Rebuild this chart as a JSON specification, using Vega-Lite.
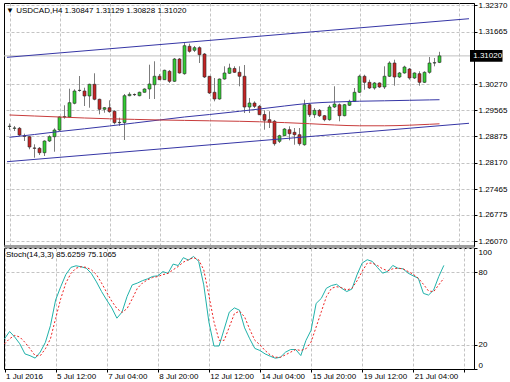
{
  "$schema": "https://vega.github.io/schema/vega-lite/v6.json",
  "background": "white",
  "padding": {"left": 2, "top": 0, "right": 0, "bottom": 0},
  "spacing": 2,
  "bounds": "flush",
  "config": {
    "font": "Liberation Sans",
    "view": {"stroke": "#000000", "strokeWidth": 1},
    "axis": {"labelFont": "Liberation Sans", "labelFontSize": 8, "labelColor": "#000000", "gridColor": "#c4c4c4", "gridDash": [3, 2], "domainColor": "#000000", "tickColor": "#000000", "labelOverlap": false, "title": null}
  },
  "datasets": {
    "bars": [
      {"i":0,"o":1.29136,"h":1.29216,"l":1.29043,"c":1.29144,"k":25,"d":20.8},
      {"i":1,"o":1.29088,"h":1.29150,"l":1.29016,"c":1.29096,"k":31,"d":25},
      {"i":2,"o":1.29088,"h":1.29123,"l":1.28883,"c":1.28909,"k":26.4,"d":27.8},
      {"i":3,"o":1.28883,"h":1.28944,"l":1.28749,"c":1.28875,"k":20.8,"d":26.4},
      {"i":4,"o":1.28864,"h":1.28883,"l":1.28528,"c":1.28589,"k":12.5,"d":22},
      {"i":5,"o":1.28563,"h":1.28661,"l":1.28304,"c":1.28555,"k":11,"d":16.7},
      {"i":6,"o":1.28555,"h":1.28589,"l":1.28376,"c":1.28437,"k":9,"d":11},
      {"i":7,"o":1.28437,"h":1.28768,"l":1.28349,"c":1.28749,"k":14,"d":11},
      {"i":8,"o":1.28749,"h":1.28901,"l":1.28723,"c":1.28864,"k":22,"d":16.7},
      {"i":9,"o":1.28864,"h":1.29088,"l":1.28464,"c":1.29043,"k":36,"d":25},
      {"i":10,"o":1.29043,"h":1.29408,"l":1.29016,"c":1.29390,"k":57,"d":41.7},
      {"i":11,"o":1.29390,"h":1.29702,"l":1.29344,"c":1.29398,"k":68,"d":58},
      {"i":12,"o":1.29390,"h":1.30145,"l":1.29371,"c":1.29771,"k":78,"d":71},
      {"i":13,"o":1.29755,"h":1.30129,"l":1.29728,"c":1.30083,"k":84,"d":79},
      {"i":14,"o":1.30097,"h":1.30483,"l":1.30065,"c":1.30102,"k":85.3,"d":83.3},
      {"i":15,"o":1.30083,"h":1.30171,"l":1.29683,"c":1.29950,"k":84.5,"d":84.5},
      {"i":16,"o":1.29950,"h":1.30278,"l":1.29638,"c":1.30262,"k":83.3,"d":84},
      {"i":17,"o":1.30262,"h":1.30556,"l":1.29835,"c":1.29862,"k":79,"d":82},
      {"i":18,"o":1.29862,"h":1.29878,"l":1.29462,"c":1.29595,"k":72,"d":78},
      {"i":19,"o":1.29595,"h":1.29656,"l":1.29504,"c":1.29638,"k":64,"d":71},
      {"i":20,"o":1.29638,"h":1.29835,"l":1.29504,"c":1.29531,"k":57,"d":63.3},
      {"i":21,"o":1.29542,"h":1.29568,"l":1.29195,"c":1.29238,"k":50.5,"d":56},
      {"i":22,"o":1.29238,"h":1.29371,"l":1.29150,"c":1.29246,"k":42,"d":50},
      {"i":23,"o":1.29243,"h":1.30003,"l":1.28776,"c":1.29958,"k":47,"d":46.7},
      {"i":24,"o":1.29958,"h":1.30049,"l":1.29942,"c":1.29995,"k":60,"d":50},
      {"i":25,"o":1.29990,"h":1.30017,"l":1.29950,"c":1.29985,"k":69.5,"d":58},
      {"i":26,"o":1.29958,"h":1.30065,"l":1.29942,"c":1.30049,"k":71,"d":66.7},
      {"i":27,"o":1.30049,"h":1.30155,"l":1.30038,"c":1.30137,"k":73,"d":71},
      {"i":28,"o":1.30137,"h":1.30785,"l":1.29870,"c":1.30270,"k":74.5,"d":73.7},
      {"i":29,"o":1.30251,"h":1.30876,"l":1.29870,"c":1.30476,"k":76.5,"d":75.6},
      {"i":30,"o":1.30476,"h":1.30537,"l":1.30377,"c":1.30385,"k":77,"d":76.4},
      {"i":31,"o":1.30385,"h":1.30652,"l":1.30377,"c":1.30636,"k":80.5,"d":78},
      {"i":32,"o":1.30609,"h":1.30644,"l":1.30297,"c":1.30342,"k":79,"d":79},
      {"i":33,"o":1.30342,"h":1.30964,"l":1.30323,"c":1.30937,"k":86.7,"d":82},
      {"i":34,"o":1.30937,"h":1.30964,"l":1.30545,"c":1.30564,"k":85.5,"d":84.7},
      {"i":35,"o":1.30545,"h":1.31364,"l":1.30518,"c":1.31292,"k":92,"d":88.3},
      {"i":36,"o":1.31276,"h":1.31345,"l":1.31105,"c":1.31142,"k":90,"d":90.3},
      {"i":37,"o":1.31169,"h":1.31284,"l":1.31124,"c":1.31239,"k":93,"d":92},
      {"i":38,"o":1.31239,"h":1.31276,"l":1.30830,"c":1.31052,"k":89,"d":90.3},
      {"i":39,"o":1.31070,"h":1.31097,"l":1.30430,"c":1.30457,"k":69.5,"d":82},
      {"i":40,"o":1.30476,"h":1.30483,"l":1.30003,"c":1.30030,"k":39,"d":61},
      {"i":41,"o":1.30049,"h":1.30430,"l":1.29808,"c":1.29870,"k":19,"d":39},
      {"i":42,"o":1.29870,"h":1.30417,"l":1.29851,"c":1.30403,"k":19,"d":23.7},
      {"i":43,"o":1.30403,"h":1.30742,"l":1.30385,"c":1.30564,"k":33,"d":23.7},
      {"i":44,"o":1.30556,"h":1.30812,"l":1.30537,"c":1.30697,"k":47,"d":34.7},
      {"i":45,"o":1.30684,"h":1.30742,"l":1.30564,"c":1.30582,"k":50.5,"d":45.8},
      {"i":46,"o":1.30582,"h":1.30742,"l":1.30209,"c":1.30476,"k":48.6,"d":47.8},
      {"i":47,"o":1.30476,"h":1.30777,"l":1.29496,"c":1.29656,"k":34,"d":43},
      {"i":48,"o":1.29656,"h":1.29897,"l":1.29496,"c":1.29763,"k":25,"d":32.8},
      {"i":49,"o":1.29763,"h":1.29808,"l":1.29630,"c":1.29675,"k":17,"d":23.7},
      {"i":50,"o":1.29675,"h":1.29710,"l":1.29443,"c":1.29451,"k":15.3,"d":20},
      {"i":51,"o":1.29456,"h":1.29568,"l":1.29051,"c":1.29302,"k":12.5,"d":15.3},
      {"i":52,"o":1.29318,"h":1.29542,"l":1.29096,"c":1.29248,"k":10.6,"d":11.7},
      {"i":53,"o":1.29275,"h":1.29310,"l":1.28624,"c":1.28677,"k":8.9,"d":9.7},
      {"i":54,"o":1.28741,"h":1.28917,"l":1.28696,"c":1.28891,"k":9.7,"d":9.7},
      {"i":55,"o":1.28891,"h":1.29096,"l":1.28883,"c":1.29069,"k":13.9,"d":11.7},
      {"i":56,"o":1.29051,"h":1.29141,"l":1.28768,"c":1.28944,"k":16.1,"d":13.9},
      {"i":57,"o":1.28981,"h":1.29096,"l":1.28650,"c":1.28917,"k":16.1,"d":16.1},
      {"i":58,"o":1.28917,"h":1.29096,"l":1.28624,"c":1.28677,"k":11.1,"d":15.3},
      {"i":59,"o":1.28650,"h":1.29851,"l":1.28624,"c":1.29718,"k":23.6,"d":16.7},
      {"i":60,"o":1.29718,"h":1.29763,"l":1.29390,"c":1.29451,"k":32,"d":22.2},
      {"i":61,"o":1.29451,"h":1.29630,"l":1.29363,"c":1.29568,"k":54.2,"d":34.7},
      {"i":62,"o":1.29568,"h":1.29603,"l":1.29390,"c":1.29424,"k":58.3,"d":47.2},
      {"i":63,"o":1.29424,"h":1.29443,"l":1.29275,"c":1.29318,"k":66.7,"d":59.7},
      {"i":64,"o":1.29318,"h":1.29710,"l":1.29291,"c":1.29656,"k":69,"d":66.7},
      {"i":65,"o":1.29656,"h":1.30209,"l":1.29630,"c":1.29736,"k":70,"d":68},
      {"i":66,"o":1.29718,"h":1.29750,"l":1.29275,"c":1.29424,"k":66.7,"d":67.2},
      {"i":67,"o":1.29424,"h":1.29736,"l":1.29408,"c":1.29718,"k":64,"d":65.3},
      {"i":68,"o":1.29702,"h":1.29851,"l":1.29683,"c":1.29808,"k":66.1,"d":66.7},
      {"i":69,"o":1.29808,"h":1.30163,"l":1.29790,"c":1.30049,"k":77.8,"d":72.8},
      {"i":70,"o":1.30049,"h":1.30518,"l":1.30030,"c":1.30476,"k":87.5,"d":80.6},
      {"i":71,"o":1.30476,"h":1.30518,"l":1.30118,"c":1.30315,"k":90.3,"d":87.5},
      {"i":72,"o":1.30315,"h":1.30385,"l":1.30137,"c":1.30163,"k":88.9,"d":87.5},
      {"i":73,"o":1.30163,"h":1.30323,"l":1.30118,"c":1.30297,"k":83.9,"d":85.6},
      {"i":74,"o":1.30297,"h":1.30315,"l":1.30163,"c":1.30190,"k":79.2,"d":82.8},
      {"i":75,"o":1.30190,"h":1.30742,"l":1.30137,"c":1.30476,"k":80.6,"d":81.2},
      {"i":76,"o":1.30476,"h":1.30876,"l":1.30457,"c":1.30830,"k":85.6,"d":82.8},
      {"i":77,"o":1.30830,"h":1.30918,"l":1.30225,"c":1.30457,"k":83.3,"d":83.3},
      {"i":78,"o":1.30457,"h":1.30590,"l":1.30430,"c":1.30564,"k":82.8,"d":82.8},
      {"i":79,"o":1.30564,"h":1.30758,"l":1.30545,"c":1.30724,"k":79.2,"d":80.6},
      {"i":80,"o":1.30670,"h":1.30697,"l":1.30385,"c":1.30430,"k":77,"d":78.3},
      {"i":81,"o":1.30430,"h":1.30582,"l":1.30403,"c":1.30564,"k":75,"d":75},
      {"i":82,"o":1.30545,"h":1.30609,"l":1.30225,"c":1.30315,"k":62.5,"d":70},
      {"i":83,"o":1.30315,"h":1.30609,"l":1.30297,"c":1.30582,"k":61.1,"d":64.5},
      {"i":84,"o":1.30582,"h":1.30990,"l":1.30545,"c":1.30830,"k":65.3,"d":63.9},
      {"i":85,"o":1.30830,"h":1.30964,"l":1.30742,"c":1.30838,"k":76.4,"d":69.5},
      {"i":86,"o":1.30847,"h":1.31129,"l":1.30828,"c":1.31020,"k":85.6259,"d":75.1065}
    ],
    "ma": [
      {"i":0,"b":1.28848,"r":1.29443},
      {"i":5,"b":1.28923,"r":1.29416},
      {"i":10,"b":1.29003,"r":1.29390},
      {"i":15,"b":1.29075,"r":1.29363},
      {"i":20,"b":1.29150,"r":1.29342},
      {"i":25,"b":1.29230,"r":1.29326},
      {"i":30,"b":1.29310,"r":1.29310},
      {"i":35,"b":1.29390,"r":1.29299},
      {"i":40,"b":1.29456,"r":1.29288},
      {"i":46,"b":1.29542,"r":1.29275},
      {"i":50,"b":1.29603,"r":1.29262},
      {"i":55,"b":1.29683,"r":1.29240},
      {"i":60,"b":1.29755,"r":1.29211},
      {"i":65,"b":1.29790,"r":1.29176},
      {"i":70,"b":1.29811,"r":1.29155},
      {"i":75,"b":1.29822,"r":1.29155},
      {"i":80,"b":1.29835,"r":1.29171},
      {"i":84,"b":1.29846,"r":1.29195},
      {"i":86,"b":1.29851,"r":1.29208}
    ],
    "chan": [
      {"i":-0.5,"up":1.30982,"lo":1.28197},
      {"i":91.9,"up":1.32012,"lo":1.29222}
    ]
  },
  "vconcat": [
    {
      "width": 470,
      "height": 243,
      "title": {"text": "▼ USDCAD,H4  1.30847 1.31129 1.30828 1.31020", "anchor": "start", "frame": "group", "orient": "top", "offset": -12, "dx": 2, "dy": 8, "baseline": "alphabetic", "fontSize": 8, "fontWeight": "normal", "font": "Liberation Sans", "color": "#000000"},
      "layer": [
        {
          "data": {"values": [{"p": 1.3102}]},
          "mark": {"type": "rule", "color": "#c0c0c0", "strokeWidth": 1},
          "encoding": {
            "y": {"field": "p", "type": "quantitative",
              "scale": {"domain": [1.259479, 1.324311], "nice": false, "zero": false},
              "axis": {"orient": "right", "values": [1.3237, 1.31665, 1.3027, 1.29565, 1.28875, 1.2817, 1.27465, 1.26775, 1.2607], "tickCount": 30, "format": ".5f", "tickSize": 3, "labelPadding": 1, "labelOverlap": false, "grid": true, "domainColor": "#000000"}}
          }
        },
        {
          "data": {"name": "bars"},
          "mark": {"type": "rule", "color": "#7c7c7c", "strokeWidth": 1},
          "encoding": {
            "x": {"field": "i", "type": "quantitative",
              "scale": {"domain": [-0.1, 91.9], "nice": false, "zero": false},
              "axis": {"orient": "bottom", "values": [0,10,20,30,40,50,60,70,80,90], "tickCount": 30, "labels": false, "ticks": false, "grid": true, "domainWidth": 3, "domainColor": "#9c9c9c"}},
            "y": {"field": "l", "type": "quantitative"},
            "y2": {"field": "h"}
          }
        },
        {
          "data": {"name": "bars"},
          "mark": {"type": "bar", "orient": "vertical", "size": 3, "stroke": "#2a2a2a", "strokeWidth": 0.6},
          "encoding": {
            "x": {"field": "i", "type": "quantitative"},
            "y": {"field": "o", "type": "quantitative"},
            "y2": {"field": "c"},
            "fill": {"condition": {"test": "datum.c >= datum.o", "value": "#33cc33"}, "value": "#c42424"}
          }
        },
        {
          "data": {"name": "chan"},
          "mark": {"type": "line", "color": "#3636a6", "strokeWidth": 1, "clip": true},
          "encoding": {"x": {"field": "i", "type": "quantitative"}, "y": {"field": "up", "type": "quantitative"}}
        },
        {
          "data": {"name": "chan"},
          "mark": {"type": "line", "color": "#3636a6", "strokeWidth": 1, "clip": true},
          "encoding": {"x": {"field": "i", "type": "quantitative"}, "y": {"field": "lo", "type": "quantitative"}}
        },
        {
          "data": {"name": "ma"},
          "mark": {"type": "line", "color": "#3636a6", "strokeWidth": 1, "interpolate": "monotone"},
          "encoding": {"x": {"field": "i", "type": "quantitative"}, "y": {"field": "b", "type": "quantitative"}}
        },
        {
          "data": {"name": "ma"},
          "mark": {"type": "line", "color": "#c83c3c", "strokeWidth": 1, "interpolate": "monotone"},
          "encoding": {"x": {"field": "i", "type": "quantitative"}, "y": {"field": "r", "type": "quantitative"}}
        },
        {
          "data": {"values": [{"p": 1.3102}]},
          "mark": {"type": "rect", "color": "#000000", "clip": false},
          "encoding": {
            "x": {"datum": 92.1}, "x2": {"datum": 98.6},
            "y": {"datum": 1.31177}, "y2": {"datum": 1.30863}
          }
        },
        {
          "data": {"values": [{"p": 1.3102}]},
          "mark": {"type": "text", "color": "#ffffff", "align": "left", "baseline": "middle", "fontSize": 8, "font": "Liberation Sans", "clip": false},
          "encoding": {
            "x": {"datum": 92.75},
            "y": {"field": "p", "type": "quantitative"},
            "text": {"field": "p", "type": "quantitative", "format": ".5f"}
          }
        }
      ]
    },
    {
      "width": 470,
      "height": 121,
      "title": {"text": "Stoch(14,3,3) 85.6259 75.1065", "anchor": "start", "frame": "group", "orient": "top", "offset": -12, "dx": 2, "dy": 5, "baseline": "alphabetic", "fontSize": 8, "fontWeight": "normal", "font": "Liberation Sans", "color": "#000000"},
      "data": {"name": "bars"},
      "layer": [
        {
          "mark": {"type": "line", "color": "#20b2aa", "strokeWidth": 1},
          "encoding": {
            "x": {"field": "i", "type": "quantitative",
              "scale": {"domain": [-0.1, 91.9], "nice": false, "zero": false},
              "axis": {"orient": "bottom", "values": [0,10,20,30,40,50,60,70,80,90], "tickCount": 30, "labelExpr": "['1 Jul 2016','5 Jul 12:00','7 Jul 04:00','8 Jul 20:00','12 Jul 12:00','14 Jul 04:00','15 Jul 20:00','19 Jul 12:00','21 Jul 04:00',''][round(datum.value/10)]", "labelAlign": "left", "labelFlush": false, "labelOffset": 1, "labelOverlap": false, "tickSize": 3, "labelPadding": 0, "grid": true}},
            "y": {"field": "k", "type": "quantitative",
              "scale": {"domain": [0, 100], "nice": false},
              "axis": {"orient": "right", "values": [0, 20, 80, 100], "labelFlush": true, "tickSize": 3, "labelPadding": 1, "grid": true}}
          }
        },
        {
          "mark": {"type": "line", "color": "#ee2222", "strokeWidth": 1, "strokeDash": [2, 2]},
          "encoding": {
            "x": {"field": "i", "type": "quantitative"},
            "y": {"field": "d", "type": "quantitative"}
          }
        }
      ]
    }
  ]
}
